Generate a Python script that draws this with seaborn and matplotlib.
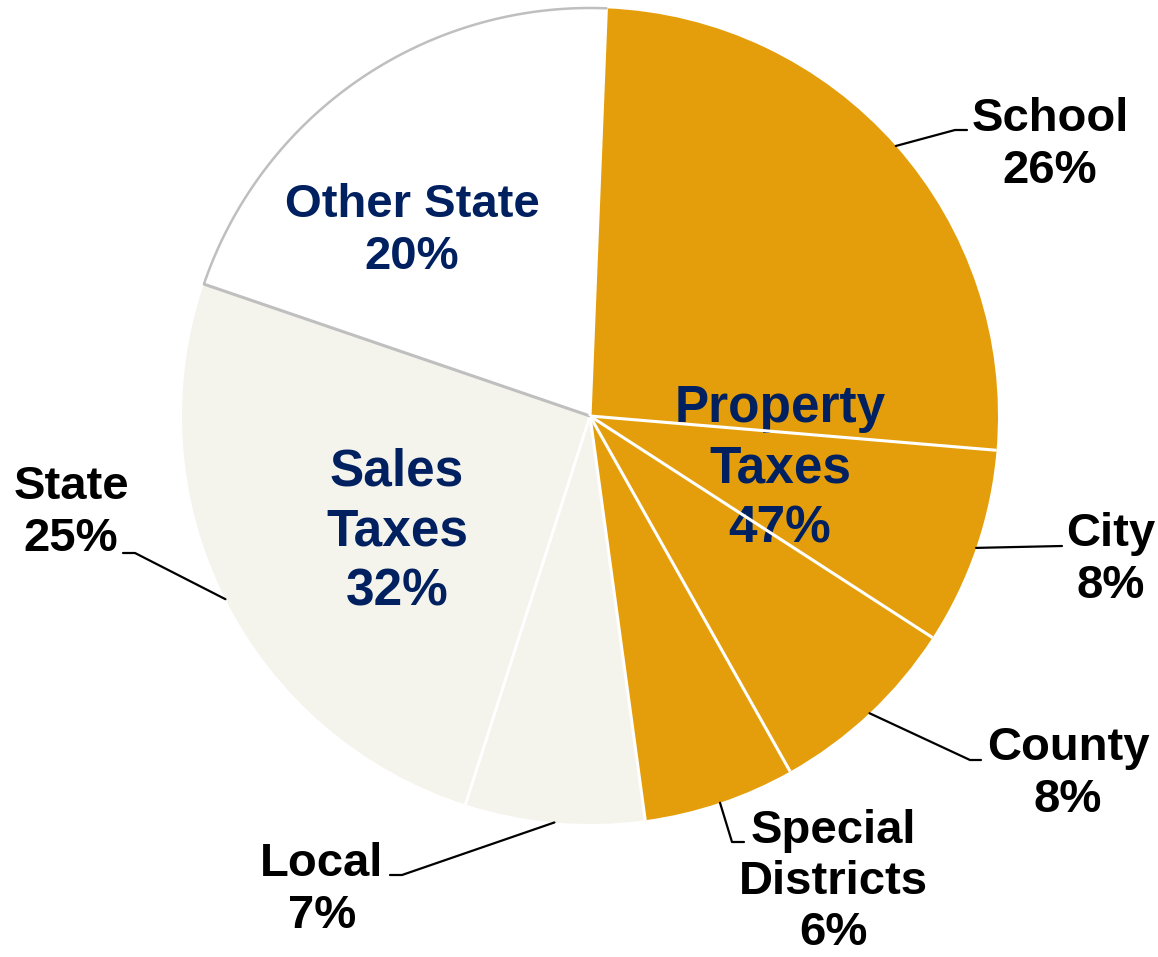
import numpy as np
import matplotlib
matplotlib.use('Agg')
import matplotlib.pyplot as plt
import seaborn as sns

# slices, clockwise from the top
names = ['School', 'City', 'County', 'Special\nDistricts', 'Local', 'State', 'Other State']
shares = [25.7, 7.8, 7.7, 6.0, 7.1, 25.3, 20.4]
pct_text = ['26%', '8%', '8%', '6%', '7%', '25%', '20%']
group = ['Property', 'Property', 'Property', 'Property', 'Sales', 'Sales', 'Other']
group_text = {'Property': 'Property\nTaxes\n47%', 'Sales': 'Sales\nTaxes\n32%'}

sns.set_theme(style='white')
plt.rcParams['font.family'] = ['Liberation Sans', 'DejaVu Sans']

fill = {'Property': '#E59E0B', 'Sales': '#F4F3EC', 'Other': '#FFFFFF'}
navy = '#002060'

W, H = 1158, 957
CX, CY, R = 590, 416, 408


def px(x, y):
    # pixel position -> data units (pie radius = 1)
    return (x - CX) / R, (CY - y) / R


fig = plt.figure(figsize=(W / 100, H / 100), dpi=100)
ax = fig.add_axes([0, 0, 1, 1])
wedges, _ = ax.pie(shares, colors=[fill[g] for g in group], startangle=87.7,
                   counterclock=False, radius=1,
                   wedgeprops=dict(edgecolor='none', linewidth=0))

# group labels (drawn under the slice borders)
ax.text(*px(780, 469), group_text['Property'], ha='center', va='center',
        fontsize=37, fontweight='bold', color=navy, linespacing=1.3, zorder=3)
ax.text(*px(397, 532), group_text['Sales'], ha='center', va='center',
        fontsize=37, fontweight='bold', color=navy, linespacing=1.3, zorder=3)
ax.text(*px(412, 231), 'Other State\n20%', ha='center', va='center',
        fontsize=34, fontweight='bold', color=navy, linespacing=1.22, zorder=3)

# slice borders (clockwise pie: theta1 is the border with the next slice)
for i, w in enumerate(wedges):
    a = np.deg2rad(w.theta1)
    pair = {group[i], group[(i + 1) % len(group)]}
    col = '#BFBFBF' if pair == {'Sales', 'Other'} else 'white'
    ax.plot([0, np.cos(a)], [0, np.sin(a)], color=col, lw=2.2,
            solid_capstyle='butt', zorder=4)
ow = wedges[-1]
t = np.deg2rad(np.linspace(ow.theta1, ow.theta2, 100))
ax.plot(np.cos(t), np.sin(t), color='#BFBFBF', lw=1.8, zorder=4)

# outer labels with leader lines
label_pos = [(1050, 145), (1111, 560), (1068, 774), (833, 882),
             (322, 890), (71, 513), None]
elbows = [[(955, 130), (967, 130)], [(1062, 546)], [(970, 760), (981, 760)],
          [(732, 842), (744, 842)], [(402, 875), (390, 875)],
          [(135, 553), (123, 553)], None]
for w, nm, pc, pos, elb in zip(wedges, names, pct_text, label_pos, elbows):
    if pos is None:
        continue
    mid = np.deg2rad((w.theta1 + w.theta2) / 2)
    xs = [np.cos(mid)] + [px(*p)[0] for p in elb]
    ys = [np.sin(mid)] + [px(*p)[1] for p in elb]
    ax.plot(xs, ys, color='black', lw=1.6, zorder=5)
    ax.text(*px(*pos), nm + '\n' + pc, ha='center', va='center',
            fontsize=34, fontweight='bold', color='black', linespacing=1.22,
            zorder=5)

ax.set_xlim(px(0, 0)[0], px(W, 0)[0])
ax.set_ylim(px(0, H)[1], px(0, 0)[1])
ax.set_aspect('auto')
ax.axis('off')

fig.savefig('out.png', dpi=100)
